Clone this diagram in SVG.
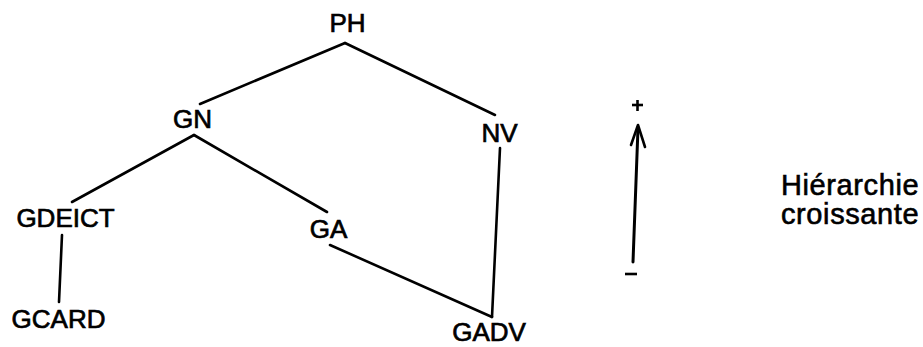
<svg xmlns="http://www.w3.org/2000/svg" width="923" height="347" viewBox="0 0 923 347">
<style>
.lbl{font-family:"Liberation Sans",Arial,sans-serif;font-size:26px;fill:#000;stroke:#000;stroke-width:0.7;text-anchor:middle}
.side{font-family:"Liberation Sans",Arial,sans-serif;font-size:29px;fill:#000;stroke:#000;stroke-width:0.6;letter-spacing:0.6px}
.edge{stroke:#000;stroke-width:2.6;fill:none;stroke-linecap:round}
</style>
<rect width="923" height="347" fill="#fff"/>
<g id="connectors">
<line class="edge" x1="345" y1="43" x2="200" y2="104"/>
<line class="edge" x1="345" y1="43" x2="495" y2="115"/>
<line class="edge" x1="194" y1="135" x2="72" y2="202"/>
<line class="edge" x1="194" y1="135" x2="327" y2="212"/>
<line class="edge" x1="62" y1="235" x2="59" y2="302"/>
<line class="edge" x1="330" y1="245" x2="492" y2="317"/>
<line class="edge" x1="500" y1="148" x2="492" y2="317"/>
</g>
<g id="node-PH"><text class="lbl" x="347.5" y="32">PH</text></g>
<g id="node-GN"><text class="lbl" x="192.5" y="128">GN</text></g>
<g id="node-NV"><text class="lbl" x="499.5" y="142">NV</text></g>
<g id="node-GDEICT"><text class="lbl" x="65.5" y="227">GDEICT</text></g>
<g id="node-GA"><text class="lbl" x="328.5" y="238">GA</text></g>
<g id="node-GCARD"><text class="lbl" x="58.5" y="328">GCARD</text></g>
<g id="node-GADV"><text class="lbl" x="489" y="341">GADV</text></g>
<g id="scale">
<line x1="633" y1="262" x2="638" y2="128" stroke="#000" stroke-width="3" stroke-linecap="round"/>
<polyline points="631,145 638,125 645,147" fill="none" stroke="#000" stroke-width="2.6" stroke-linecap="round" stroke-linejoin="round"/>
<line x1="632" y1="105" x2="643" y2="105" stroke="#000" stroke-width="2.6"/>
<line x1="637.5" y1="100" x2="637.5" y2="111" stroke="#000" stroke-width="2.6"/>
<line x1="625" y1="274" x2="637" y2="274" stroke="#000" stroke-width="2.6"/>
<text class="side" x="781" y="195">Hiérarchie</text>
<text class="side" x="781" y="224">croissante</text>
</g>
</svg>
